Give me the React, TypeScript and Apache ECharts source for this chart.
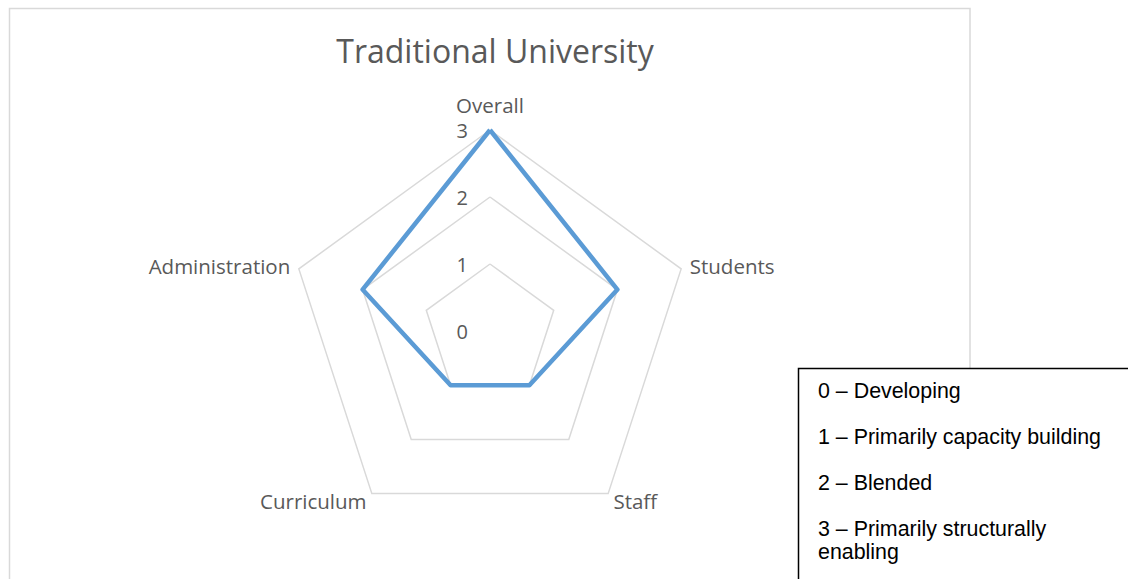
import React, { useEffect, useRef } from "react";
import * as echarts from "echarts";

// Listed counter-clockwise from the top (ECharts radar order), so that the
// picture reads clockwise: Overall, Students, Staff, Curriculum, Administration.
const categories = ["Overall", "Administration", "Curriculum", "Staff", "Students"];
const values = [3, 2, 1, 1, 2];
const seriesName = "Traditional University";
const legendLines = [
  "0 – Developing",
  "1 – Primarily capacity building",
  "2 – Blended",
  "3 – Primarily structurally\nenabling",
];

export default function App() {
  const ref = useRef<HTMLDivElement>(null);
  useEffect(() => {
    if (!ref.current) return;
    const chart = echarts.init(ref.current, undefined, { renderer: "svg" });
    const font = "'Open Sans', 'Noto Sans', sans-serif";
    const legendY = [391, 437, 483, 529];
    chart.setOption({
      animation: false,
      backgroundColor: "#ffffff",
      title: {
        text: seriesName,
        left: 490,
        textAlign: "center",
        top: 29,
        textStyle: { fontFamily: font, fontSize: 32, fontWeight: "normal", color: "#595959" },
      },
      radar: {
        center: [490, 331],
        radius: 201,
        startAngle: 90,
        splitNumber: 3,
        shape: "polygon",
        nameGap: 9,
        axisName: { color: "#595959", fontFamily: font, fontSize: 20.5 },
        axisLine: { show: false },
        axisTick: { show: false },
        splitArea: { show: false },
        splitLine: { lineStyle: { color: "#d9d9d9", width: 1.5 } },
        indicator: categories.map((c, i) => ({
          name: c,
          min: 0,
          max: 3,
          ...(i === 0
            ? {
                nameGap: 15,
                axisLabel: { show: true, color: "#595959", fontFamily: font, fontSize: 20, margin: 22 },
              }
            : {}),
        })),
      },
      series: [
        {
          type: "radar",
          name: seriesName,
          symbol: "none",
          lineStyle: { color: "#5b9bd5", width: 4.5 },
          data: [{ value: values, name: seriesName }],
        },
      ],
      graphic: [
        {
          type: "rect",
          shape: { x: 9.5, y: 8.5, width: 960.5, height: 600 },
          style: { fill: "none", stroke: "#d9d9d9", lineWidth: 1.5 },
          silent: true,
        },
        {
          type: "rect",
          shape: { x: 798.5, y: 368.5, width: 400, height: 300 },
          style: { fill: "#ffffff", stroke: "#000000", lineWidth: 1.5 },
          silent: true,
        },
        ...legendLines.map((t, i) => ({
          type: "text",
          x: 818,
          y: legendY[i] - 11.5,
          style: {
            text: t,
            fill: "#000000",
            font: "21.4px 'Liberation Sans', Arial, sans-serif",
            textVerticalAlign: "top",
            lineHeight: 23,
          },
        })),
      ],
    });
    return () => chart.dispose();
  }, []);
  return <div ref={ref} style={{ position: "absolute", left: 0, top: 0, width: 1128, height: 579 }} />;
}
